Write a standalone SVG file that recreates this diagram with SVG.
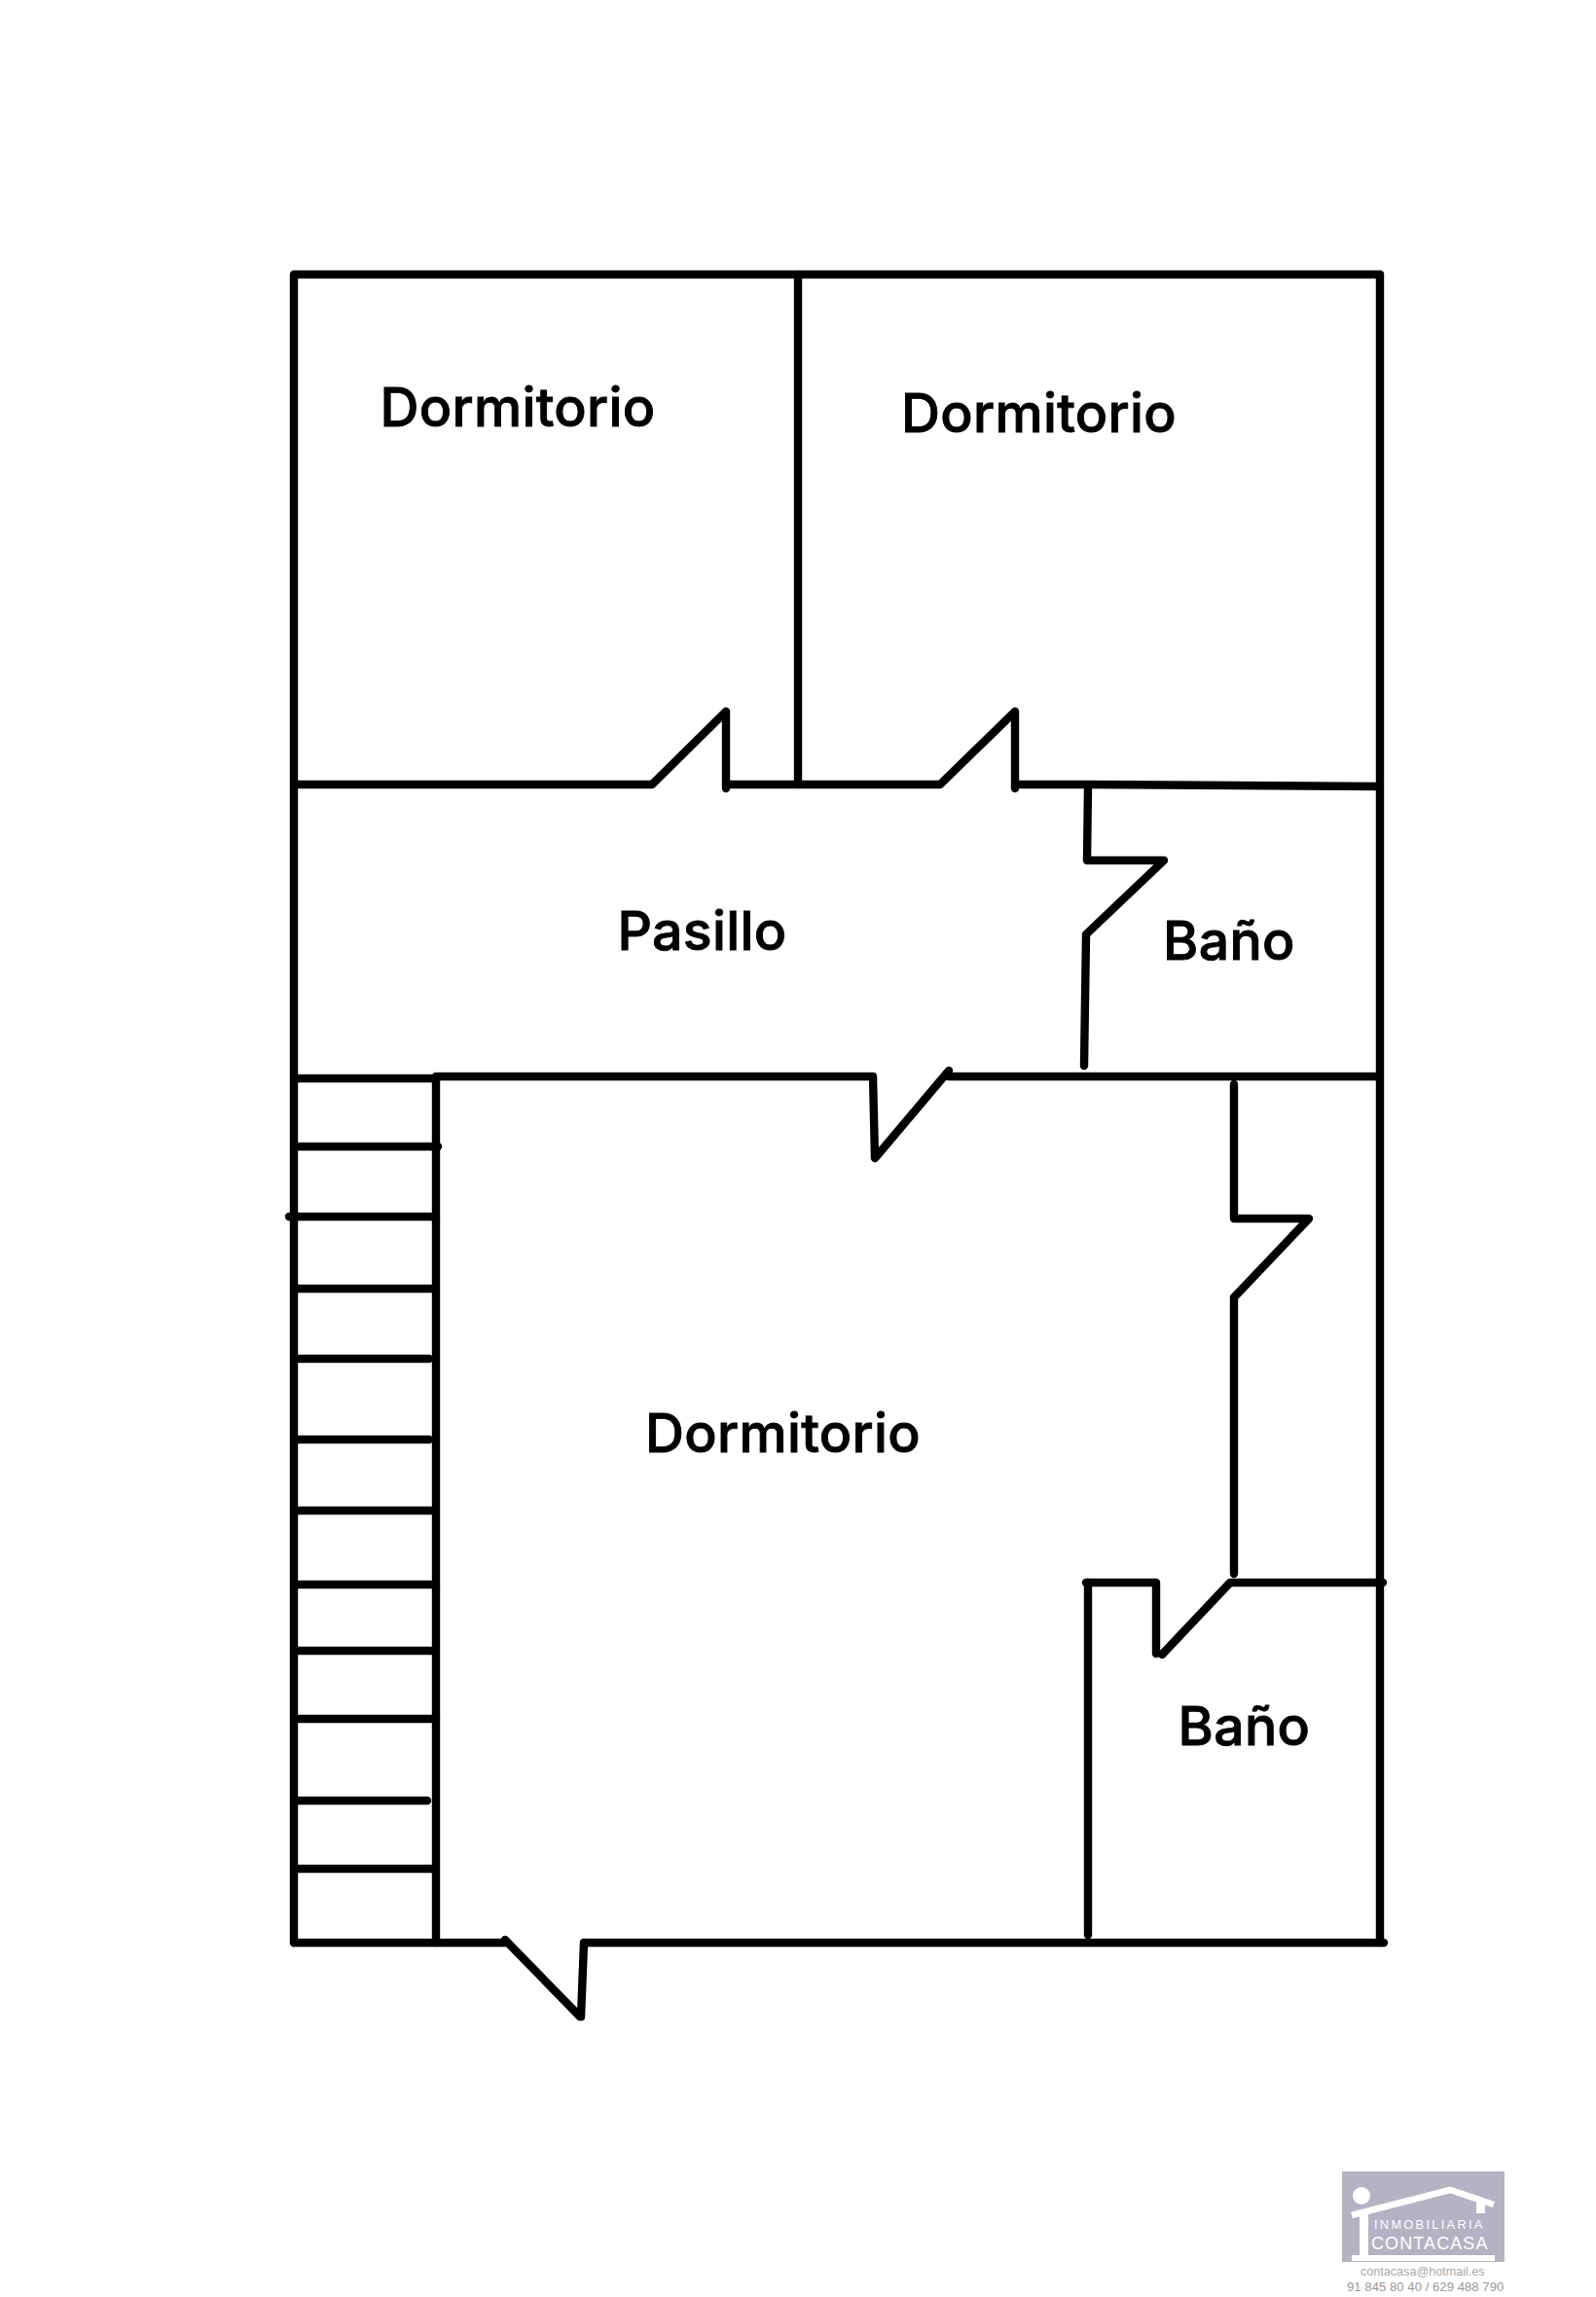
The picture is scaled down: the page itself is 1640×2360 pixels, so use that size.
<svg xmlns="http://www.w3.org/2000/svg" width="1640" height="2360" viewBox="0 0 1640 2360">
<style>
.w{fill:none;stroke:#000;stroke-width:8.4;stroke-linecap:round;stroke-linejoin:round}
.l{font-family:"Inter","Liberation Sans",sans-serif;font-weight:500;font-size:55.3px;letter-spacing:.35px;fill:#000;stroke:#000;stroke-width:.9px}
.a{font-family:"Liberation Sans",sans-serif}
</style>
<rect width="1640" height="2360" fill="#fff"/>
<g id="walls" class="w">
<path d="M303 282H1418"/>
<path d="M302 282V1996"/>
<path d="M1418 282V1996"/>
<path d="M820 282V806"/>
<path d="M304 806H670L746 731V810M746 806H966L1043 731V810M1043 806H1116L1418 808"/>
<path d="M1118 808L1117 884H1196L1116 960L1114 1095"/>
<path d="M302 1108H447M450 1106H897L899 1190L975 1100M975 1106H1418"/>
<path d="M448 1106V1996"/>
<path d="M1268 1114V1252H1345L1268 1333V1617"/>
<path d="M1116 1626H1188V1699M1194 1700L1264 1626H1421"/>
<path d="M1118 1626V1988"/>
<path d="M302 1996H519M519 1993L596 2072H597L600 1996"/>
<path d="M600 1996H1422"/>
</g>
<g id="stairs" class="w">
<path d="M302 1178H450"/>
<path d="M297 1250H448"/>
<path d="M302 1324H446"/>
<path d="M302 1396H441"/>
<path d="M302 1479H441"/>
<path d="M302 1552H446"/>
<path d="M302 1628H448"/>
<path d="M302 1696H446"/>
<path d="M302 1766H448"/>
<path d="M302 1850H439"/>
<path d="M302 1920H446"/>
</g>
<g id="labels" class="l">
<text x="390.500" y="438">Dormitorio</text>
<text x="926" y="444">Dormitorio</text>
<text x="634.500" y="976">Pasillo</text>
<text x="1195" y="986">Baño</text>
<text x="663" y="1491.500">Dormitorio</text>
<text x="1210.500" y="1792.500">Baño</text>
</g>
<g id="logo">
<rect x="1379" y="2231" width="167" height="93" fill="#b3b3c3"/>
<circle cx="1399" cy="2256" r="9" fill="#fff"/>
<path d="M1389 2276L1490 2250L1535 2265" fill="none" stroke="#fff" stroke-width="6.5"/>
<rect x="1517" y="2263" width="9" height="11" fill="#fff"/>
<rect x="1397" y="2275" width="9" height="42" fill="#fff"/>
<rect x="1389" y="2317" width="147" height="6" fill="#fff"/>
<text class="a" x="1412" y="2290" font-size="12.8" letter-spacing="2.3" fill="#fff">INMOBILIARIA</text>
<text class="a" x="1409" y="2311" font-size="18" letter-spacing="1.1" fill="#fff">CONTACASA</text>
<text class="a" x="1398" y="2338" font-size="12.6" fill="#aaa">contacasa@hotmail.es</text>
<text class="a" x="1384" y="2354" font-size="13.2" fill="#999">91 845 80 40 / 629 488 790</text>
</g>
</svg>
